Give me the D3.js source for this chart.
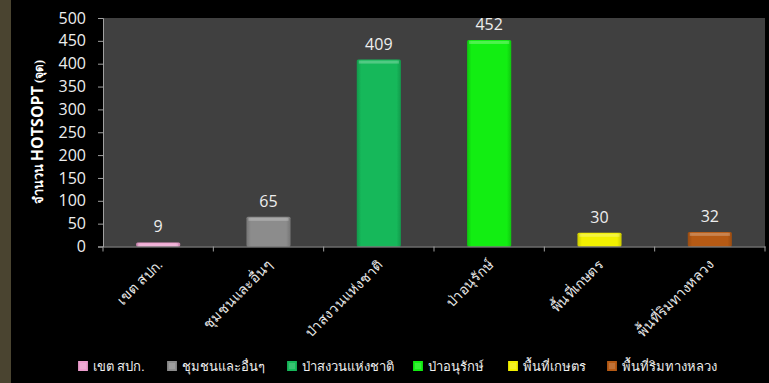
<!DOCTYPE html>
<html><head><meta charset="utf-8">
<script src="https://cdn.jsdelivr.net/npm/d3@7"></script>
<style>
html,body{margin:0;padding:0;background:#000;}
svg{display:block;}
</style></head>
<body>
<svg id="chart" width="769" height="383"></svg>
<script>
const categories = ["เขต สปก.", "ชุมชนและอื่นๆ", "ป่าสงวนแห่งชาติ", "ป่าอนุรักษ์", "พื้นที่เกษตร", "พื้นที่ริมทางหลวง"];
const values = [9, 65, 409, 452, 30, 32];
const colors = ["#ec9ccc", "#8c8c8c", "#16b85a", "#12ee12", "#f2f000", "#b65a14"];
const yTicks = [0, 50, 100, 150, 200, 250, 300, 350, 400, 450, 500];

const svg = d3.select("#chart");
const W = 769, H = 383;
const m = {left: 103, right: 4, top: 18, bottom: 137};

svg.append("rect").attr("width", W).attr("height", H).attr("fill", "#000");
svg.append("rect").attr("x", 0).attr("y", 0).attr("width", 11).attr("height", H).attr("fill", "#4a4430");

const x = d3.scaleBand().domain(categories).range([m.left, W - m.right]).paddingInner(0.6).paddingOuter(0.3);
const xb = d3.scaleBand().domain(categories).range([m.left, W - m.right]).padding(0);
const y = d3.scaleLinear().domain([0, 500]).range([H - m.bottom + 0.5, m.top]);

svg.append("rect").attr("x", m.left).attr("y", m.top)
  .attr("width", W - m.right - m.left).attr("height", y(0) - m.top).attr("fill", "#404040");

const defs = svg.append("defs");
colors.forEach((c, i) => {
  const g = defs.append("linearGradient").attr("id", "g" + i).attr("x1", 0).attr("x2", 1).attr("y1", 0).attr("y2", 0);
  const col = d3.color(c);
  g.append("stop").attr("offset", "0%").attr("stop-color", col.darker(0.5));
  g.append("stop").attr("offset", "10%").attr("stop-color", col);
  g.append("stop").attr("offset", "90%").attr("stop-color", col);
  g.append("stop").attr("offset", "100%").attr("stop-color", col.darker(0.5));
});

// bars
const bars = svg.append("g");
bars.selectAll("rect.bar").data(values).join("rect")
  .attr("class", "bar")
  .attr("x", (d, i) => x(categories[i]))
  .attr("y", d => y(d))
  .attr("width", x.bandwidth())
  .attr("height", d => y(0) - y(d))
  .attr("rx", 1.5)
  .attr("fill", (d, i) => `url(#g${i})`);
bars.selectAll("rect.hl").data(values).join("rect")
  .attr("class", "hl")
  .attr("x", (d, i) => x(categories[i]) + 2)
  .attr("y", d => y(d) + 1)
  .attr("width", x.bandwidth() - 4)
  .attr("height", d => Math.min(3, y(0) - y(d) - 1))
  .attr("fill", "#fff").attr("opacity", 0.25);

// value labels
svg.append("g").selectAll("text").data(values).join("text")
  .attr("x", (d, i) => x(categories[i]) + x.bandwidth() / 2)
  .attr("y", d => y(d) - 10)
  .attr("text-anchor", "middle")
  .attr("fill", "#eeeeee")
  .attr("font-family", "'Open Sans', 'Liberation Sans', sans-serif")
  .attr("font-size", 16)
  .text(d => d);

// y axis
const yAxis = svg.append("g").attr("transform", `translate(${m.left},0)`)
  .call(d3.axisLeft(y).tickValues(yTicks).tickSize(5).tickPadding(12));
yAxis.selectAll("path,line").attr("stroke", "#a0a0a0");
yAxis.selectAll("text").attr("fill", "#eeeeee").attr("font-size", 16)
  .attr("font-family", "'Open Sans', 'Liberation Sans', sans-serif");

// x axis
const xAxis = svg.append("g").attr("transform", `translate(0,${y(0)})`)
  .call(d3.axisBottom(xb).tickSize(0).tickFormat(""));
xAxis.select("path").attr("stroke", "#a0a0a0");
const bounds = categories.map(c => xb(c)).concat([W - m.right]);
xAxis.selectAll("line.bt").data(bounds).join("line").attr("class", "bt")
  .attr("x1", d => d).attr("x2", d => d).attr("y1", 0).attr("y2", 5).attr("stroke", "#a0a0a0");

svg.append("g").selectAll("text").data(categories).join("text")
  .attr("transform", d => `translate(${xb(d) + xb.bandwidth() / 2 + 5},${y(0) + 19}) rotate(-45)`)
  .attr("text-anchor", "end")
  .attr("fill", "#e8e8e8")
  .attr("font-family", "'Liberation Serif', 'DejaVu Serif', serif")
  .attr("font-size", 14)
  .text(d => d);

// y title
const yt = svg.append("text")
  .attr("transform", `translate(43,${(y(0) + m.top) / 2}) rotate(-90)`)
  .attr("text-anchor", "middle")
  .attr("fill", "#ffffff");
yt.append("tspan").attr("font-family", "'Liberation Serif', serif").attr("font-size", 13).attr("font-weight", "bold").text("จำนวน ");
yt.append("tspan").attr("font-family", "'Open Sans', 'Liberation Sans', sans-serif").attr("font-size", 16).attr("font-weight", "bold").text("HOTSOPT");
yt.append("tspan").attr("font-family", "'Liberation Serif', serif").attr("font-size", 12).attr("font-weight", "bold").text(" (จุด)");

// legend
const legX = [78, 167, 287, 413, 508, 607];
const leg = svg.append("g").selectAll("g").data(categories).join("g")
  .attr("transform", (d, i) => `translate(${legX[i]},361)`);
leg.append("rect").attr("width", 10).attr("height", 10).attr("fill", (d, i) => `url(#g${i})`);
leg.append("rect").attr("x", 2).attr("y", 2).attr("width", 6).attr("height", 6).attr("fill", "#fff").attr("opacity", 0.15);
leg.append("text").attr("x", 15).attr("y", 10)
  .attr("fill", "#eeeeee")
  .attr("font-family", "'Liberation Serif', 'DejaVu Serif', serif")
  .attr("font-size", 13)
  .text(d => d);
</script>
</body></html>
